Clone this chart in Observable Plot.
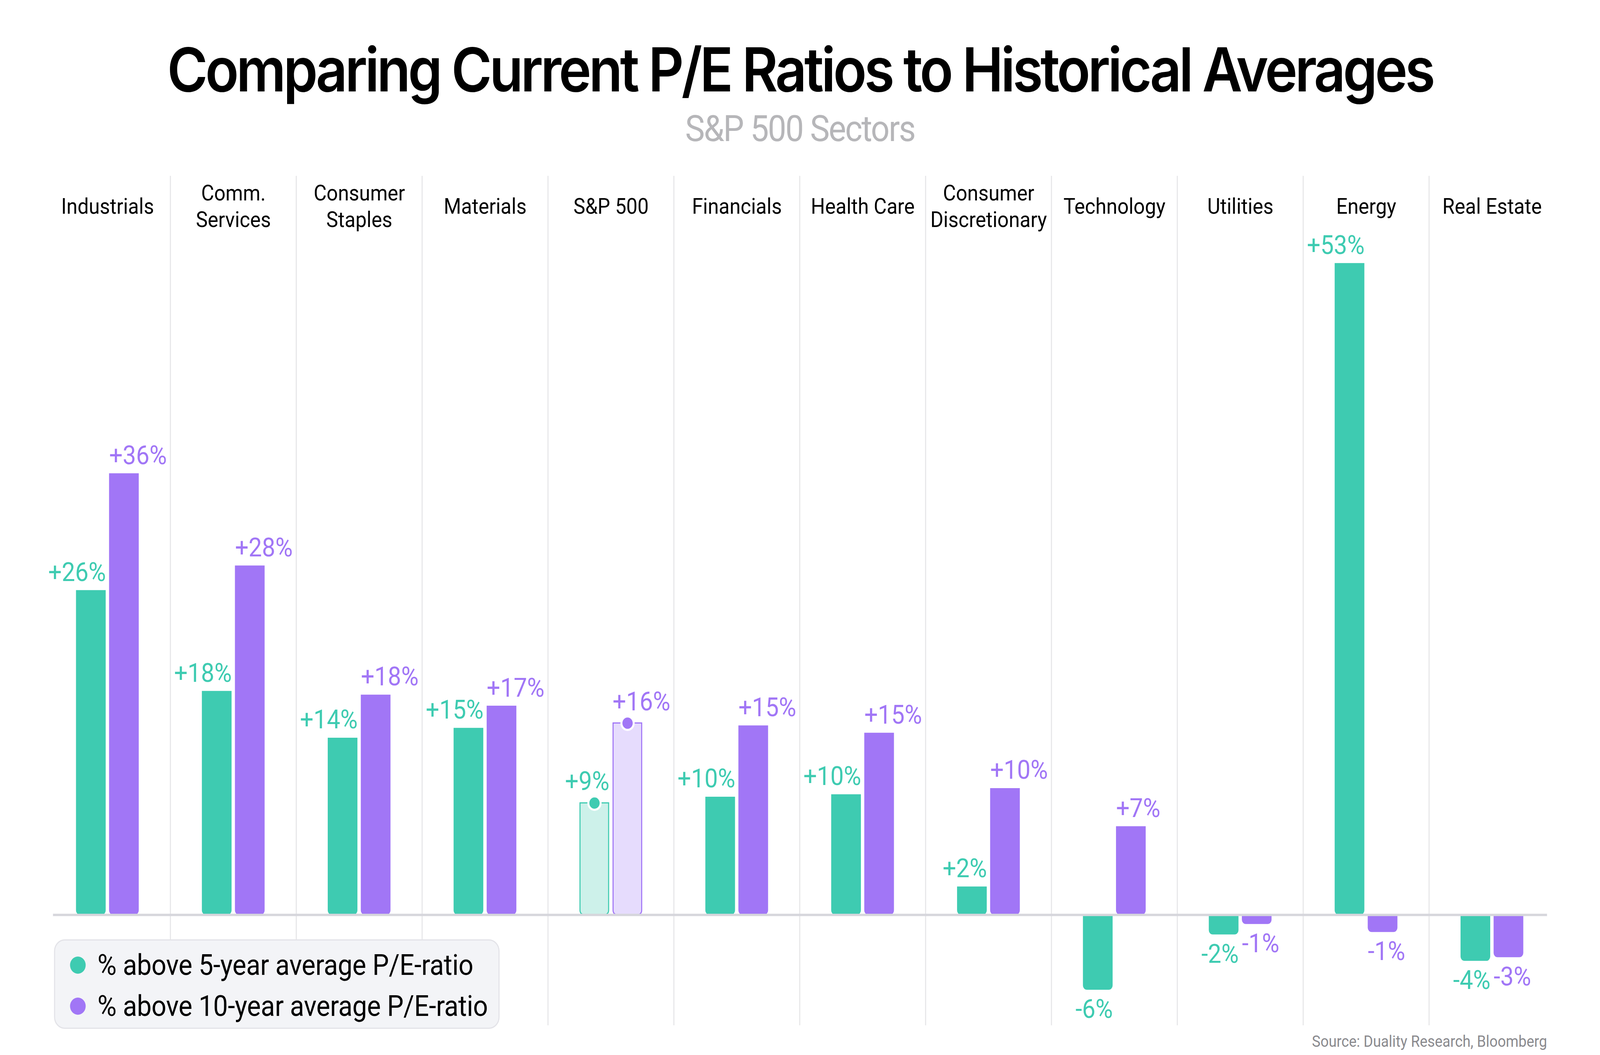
<!DOCTYPE html>
<html>
<head>
<meta charset="utf-8">
<script src="https://cdn.jsdelivr.net/npm/d3@7"></script>
<script src="https://cdn.jsdelivr.net/npm/@observablehq/plot@0.6"></script>
<style>
  html, body { margin: 0; padding: 0; background: #ffffff; overflow: hidden; }
  #wrap { width: 4500px; height: 2700px; overflow: hidden; position: relative; }
  #page { width: 4500px; height: 2700px; position: absolute; left: 0; top: 0; overflow: hidden; transform-origin: 0 0;
          font-family: Roboto, "Noto Sans", sans-serif; background: #ffffff; }
  .head { position: absolute; left: 0; width: 4500px; text-align: center; line-height: 1; white-space: nowrap; }
  .head span { display: inline-block; }
  #title { top: 100px; font-family: Inter, Roboto, sans-serif; font-weight: 600; font-size: 155px; color: #000; }
  #subtitle { top: 283px; font-size: 93px; color: #b6b6b9; }
  #chart { position: absolute; left: 0; top: 440px; }
  #legend { position: absolute; left: 152px; top: 2404px; width: 1247px; height: 223px; background: #f3f4f7;
            border: 3px solid #e3e3e8; border-radius: 30px; }
  .item { position: absolute; left: 0; height: 90px; display: flex; align-items: center; font-size: 73.5px; color: #000; white-space: nowrap; letter-spacing: -0.3px; }
  .sw { width: 44px; height: 44px; border-radius: 50%; margin-left: 42px; margin-right: 33px; }
  #source { position: absolute; right: 149px; top: 2645px; font-size: 40.5px; color: #8a8a8e; line-height: 1; white-space: nowrap; }
</style>
</head>
<body>
<div id="wrap">
<div id="page">
<div id="title" class="head"><span></span></div>
<div id="subtitle" class="head"><span></span></div>
<div id="chart"></div>
<div id="legend"></div>
<div id="source"></div>
</div>
</div>
<script>
// ---- data ----
const titleText = "Comparing Current P/E Ratios to Historical Averages";
const subtitleText = "S&P 500 Sectors";
const sourceText = "Source: Duality Research, Bloomberg";
const categories = ["Industrials", "Comm.\nServices", "Consumer\nStaples", "Materials", "S&P 500",
  "Financials", "Health Care", "Consumer\nDiscretionary", "Technology", "Utilities", "Energy", "Real Estate"];
const fiveYear = [26.4, 18.2, 14.4, 15.2, 9.1, 9.6, 9.8, 2.3, -6.1, -1.6, 53.0, -3.75];
const tenYear  = [35.9, 28.4, 17.9, 17.0, 15.6, 15.4, 14.8, 10.3, 7.2, -0.75, -1.4, -3.45];
const seriesNames = ["% above 5-year average P/E-ratio", "% above 10-year average P/E-ratio"];
const highlight = "S&P 500";

// ---- styles ----
const colors = ["#3ecbb1", "#a176f6"];
const lightColors = ["#cdf1ea", "#e6dcfd"];
const W = 4500, H = 2260;
const mL = 122, mR = 124, mT = 10, mB = 76;
const step = (W - mL - mR) / categories.length;
const barW = 84, gap = 9;
const off = (barW + gap) / 2;
const inset = (step - barW) / 2;
const fmt = v => (v >= 0 ? "+" : "-") + Math.round(Math.abs(v)) + "%";

const rows = categories.flatMap((c, i) => [
  {cat: c, s: 0, v: fiveYear[i]},
  {cat: c, s: 1, v: tenYear[i]}
]);

const marks = [];
// column separators
marks.push(Plot.ruleX(categories.slice(1), {x: d => d, dx: -step / 2, stroke: "#e6e6e8", strokeWidth: 3}));
// category labels
marks.push(Plot.text(categories, {x: d => d, text: d => d, frameAnchor: "top", dy: 75, lineAnchor: "middle",
  lineHeight: 1.2, fontSize: 56, fill: "#000", letterSpacing: "-0.3px"}));

[0, 1].forEach(s => {
  const sdx = s === 0 ? -off : off;
  const normal = rows.filter(d => d.s === s && d.cat !== highlight);
  const hi = rows.filter(d => d.s === s && d.cat === highlight);
  marks.push(Plot.barY(normal, {x: "cat", y1: 0, y2: "v", fill: colors[s], insetLeft: inset, insetRight: inset, dx: sdx, ry2: 11}));
  marks.push(Plot.barY(hi, {x: "cat", y1: 0, y2: "v", fill: lightColors[s], stroke: colors[s], strokeWidth: 3,
    insetLeft: inset + 1.5, insetRight: inset + 1.5, dx: sdx, ry2: 11}));
});

// zero baseline
marks.push(Plot.ruleY([0], {stroke: "#d6d6dc", strokeWidth: 6, insetLeft: 27, insetRight: 25}));

[0, 1].forEach(s => {
  const sdx = s === 0 ? -off : off;
  const hi = rows.filter(d => d.s === s && d.cat === highlight);
  marks.push(Plot.dot(hi, {x: "cat", y: "v", dx: sdx, r: 17.25, fill: colors[s], stroke: "#fff", strokeWidth: 5.5}));
  const anchor = s === 0 ? "end" : "start";
  const tdx = s === 0 ? -off + barW / 2 : off - barW / 2;
  const common = {x: "cat", y: "v", text: d => fmt(d.v), fill: colors[s], fontSize: 67, textAnchor: anchor, dx: tdx};
  marks.push(Plot.text(rows.filter(d => d.s === s && d.v >= 0 && d.cat !== highlight), {...common, lineAnchor: "bottom", dy: -24}));
  marks.push(Plot.text(rows.filter(d => d.s === s && d.v >= 0 && d.cat === highlight), {...common, lineAnchor: "bottom", dy: -33}));
  marks.push(Plot.text(rows.filter(d => d.s === s && d.v < 0), {...common, lineAnchor: "top", dy: 24}));
});

const chart = Plot.plot({
  width: W, height: H,
  marginLeft: mL, marginRight: mR, marginTop: mT, marginBottom: mB,
  style: {fontFamily: "Roboto, 'Noto Sans', sans-serif", background: "transparent", overflow: "visible"},
  x: {domain: categories, padding: 0, axis: null},
  y: {domain: [-8.99, 60.09], axis: null},
  marks
});
document.getElementById("chart").appendChild(chart);

// ---- header, legend, source ----
const tSpan = document.querySelector("#title span");
const sSpan = document.querySelector("#subtitle span");
tSpan.textContent = titleText;
sSpan.textContent = subtitleText;
function fit(el, target) {
  el.style.letterSpacing = "0px";
  const w = el.offsetWidth;
  el.style.letterSpacing = ((target - w) / el.textContent.length) + "px";
}
fit(tSpan, 3560);
fit(sSpan, 646);

const legend = document.getElementById("legend");
seriesNames.forEach((name, i) => {
  const item = document.createElement("div");
  item.className = "item";
  item.style.top = (i === 0 ? 18 : 123) + "px";
  const sw = document.createElement("div");
  sw.className = "sw";
  sw.style.background = colors[i];
  const tx = document.createElement("span");
  tx.textContent = name;
  item.appendChild(sw);
  item.appendChild(tx);
  legend.appendChild(item);
});
document.getElementById("source").textContent = sourceText;

// fit the 4500x2700 page to the viewport that is actually photographed
function fitPage() {
  const vw = document.documentElement.clientWidth || window.innerWidth;
  const vh = document.documentElement.clientHeight || window.innerHeight;
  let kx = vw / 4500, ky = vh / 2700;
  if (!(ky > 0) || Math.abs(kx / ky - 1) > 0.25) ky = kx;
  const wrap = document.getElementById("wrap");
  wrap.style.width = (4500 * kx) + "px";
  wrap.style.height = (2700 * ky) + "px";
  const page = document.getElementById("page");
  page.style.transform = (Math.abs(kx - 1) > 0.001 || Math.abs(ky - 1) > 0.001) ? `scale(${kx}, ${ky})` : "";
}
fitPage();
window.addEventListener("resize", fitPage);
</script>
</body>
</html>
